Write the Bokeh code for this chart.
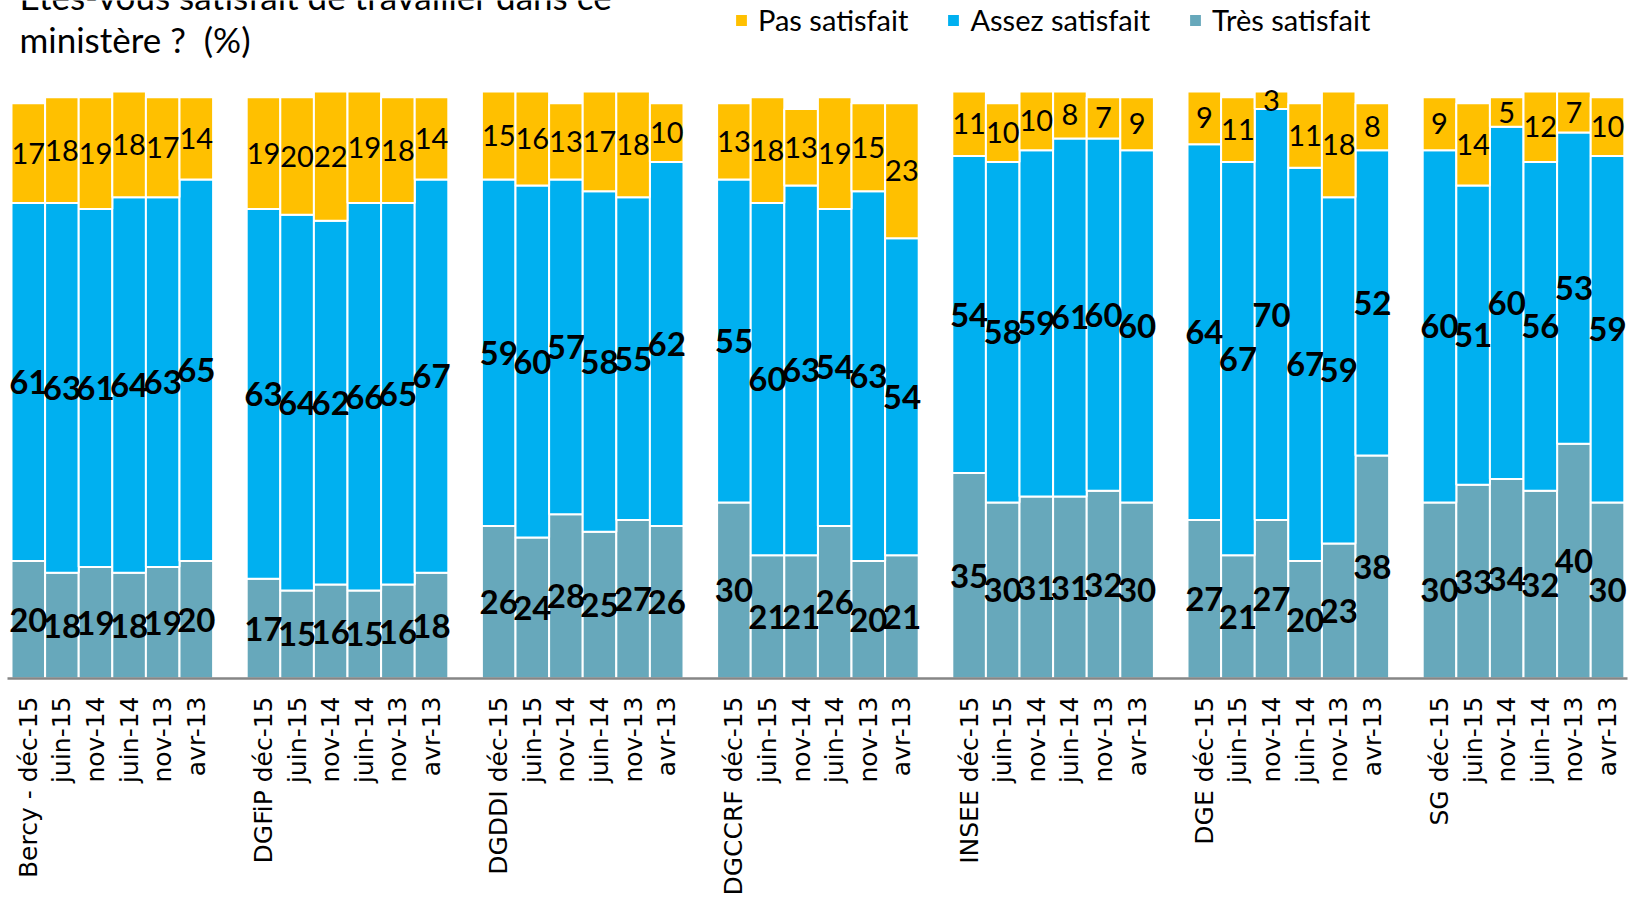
import math
from bokeh.plotting import figure
from bokeh.models import ColumnDataSource, Range1d, FixedTicker, Legend, LegendItem, Label
from bokeh.core.properties import value
from bokeh.embed import file_html
from bokeh.resources import INLINE

# ---- data -------------------------------------------------------------
groups = ["Bercy -", "DGFiP", "DGDDI", "DGCCRF", "INSEE", "DGE", "SG"]
periods = ["déc-15", "juin-15", "nov-14", "juin-14", "nov-13", "avr-13"]

# one value per (group, period), groups in order above
tres_satisfait = [
    20, 18, 19, 18, 19, 20,   # Bercy
    17, 15, 16, 15, 16, 18,   # DGFiP
    26, 24, 28, 25, 27, 26,   # DGDDI
    30, 21, 21, 26, 20, 21,   # DGCCRF
    35, 30, 31, 31, 32, 30,   # INSEE
    27, 21, 27, 20, 23, 38,   # DGE
    30, 33, 34, 32, 40, 30,   # SG
]
assez_satisfait = [
    61, 63, 61, 64, 63, 65,
    63, 64, 62, 66, 65, 67,
    59, 60, 57, 58, 55, 62,
    55, 60, 63, 54, 63, 54,
    54, 58, 59, 61, 60, 60,
    64, 67, 70, 67, 59, 52,
    60, 51, 60, 56, 53, 59,
]
pas_satisfait = [
    17, 18, 19, 18, 17, 14,
    19, 20, 22, 19, 18, 14,
    15, 16, 13, 17, 18, 10,
    13, 18, 13, 19, 15, 23,
    11, 10, 10, 8, 7, 9,
    9, 11, 3, 11, 18, 8,
    9, 14, 5, 12, 7, 10,
]

series_names = ["Pas satisfait", "Assez satisfait", "Très satisfait"]
colors = {"Pas satisfait": "#FFC000", "Assez satisfait": "#00B0F0", "Très satisfait": "#67A8BB"}
title_lines = ["Etes-vous satisfait de travailler dans ce", "ministère ?\u00a0 (%)"]

# ---- layout of categories (one empty slot between groups) -------------
n_per = len(periods)
slot = n_per + 1
xs, tick_labels = [], {}
for g, grp in enumerate(groups):
    for i, per in enumerate(periods):
        x = g * slot + i
        xs.append(x)
        tick_labels[x] = f"{grp} {per}" if i == 0 else per

t_top = tres_satisfait
a_top = [t + a for t, a in zip(tres_satisfait, assez_satisfait)]
p_top = [a + p for a, p in zip(a_top, pas_satisfait)]

src = ColumnDataSource(dict(
    x=xs,
    t_bot=[0] * len(xs), t_top=t_top, a_top=a_top, p_top=p_top,
    t_mid=[t / 2 for t in tres_satisfait],
    a_mid=[t + a / 2 for t, a in zip(tres_satisfait, assez_satisfait)],
    p_mid=[a + p / 2 for a, p in zip(a_top, pas_satisfait)],
    t_txt=[str(v) for v in tres_satisfait],
    a_txt=[str(v) for v in assez_satisfait],
    p_txt=[str(v) for v in pas_satisfait],
))

W, H = 1634, 899
FRAME_H = 678
p = figure(width=W, height=H, output_backend="svg", toolbar_location=None,
           x_range=Range1d(-0.619, 47.595), y_range=Range1d(0, 115.5),
           min_border_left=7, min_border_right=7, min_border_top=0,
           min_border_bottom=H - FRAME_H)
p.outline_line_color = None
p.xgrid.visible = False
p.ygrid.visible = False
p.yaxis.visible = False
p.background_fill_color = "white"

bar_kw = dict(width=1.0, line_color="white", line_width=2, source=src)
r_t = p.vbar(x="x", bottom="t_bot", top="t_top", fill_color=colors["Très satisfait"], **bar_kw)
r_a = p.vbar(x="x", bottom="t_top", top="a_top", fill_color=colors["Assez satisfait"], **bar_kw)
r_p = p.vbar(x="x", bottom="a_top", top="p_top", fill_color=colors["Pas satisfait"], **bar_kw)

lab_kw = dict(source=src, text_align="center", text_baseline="middle",
              text_font=value("Lato"), text_color="black")
p.text(x="x", y="t_mid", text="t_txt", text_font_style="bold", text_font_size="33px", **lab_kw)
p.text(x="x", y="a_mid", text="a_txt", text_font_style="bold", text_font_size="33px", **lab_kw)
p.text(x="x", y="p_mid", text="p_txt", text_font_style="normal", text_font_size="29px", **lab_kw)

ax = p.xaxis[0]
ax.ticker = FixedTicker(ticks=xs)
ax.major_label_overrides = tick_labels
ax.major_label_orientation = math.pi / 2
ax.major_label_text_font = "DejaVu Sans"
ax.major_label_text_font_size = "25px"
ax.major_label_text_color = "black"
ax.major_label_standoff = 18
ax.major_tick_line_color = None
ax.minor_tick_line_color = None
ax.major_tick_out = 0
ax.major_tick_in = 0
ax.axis_line_color = "#868686"
ax.axis_line_width = 2.5

legend = Legend(items=[
    LegendItem(label=series_names[0], renderers=[r_p]),
    LegendItem(label=series_names[1], renderers=[r_a]),
    LegendItem(label=series_names[2], renderers=[r_t]),
], orientation="horizontal", location=(726, FRAME_H - 37),
    glyph_width=16, glyph_height=16, label_standoff=9, spacing=37,
    padding=0, margin=0, border_line_color=None, background_fill_alpha=0,
    label_text_font="Lato", label_text_font_size="29px", label_text_color="black")
p.add_layout(legend)

for k, (txt, base) in enumerate(zip(title_lines, [683, 640])):
    p.add_layout(Label(x=12, y=base, x_units="screen", y_units="screen",
                       text=txt, text_font="Lato", text_font_size="35px",
                       text_color="black", text_baseline="alphabetic"))

open("out.html", "w").write(file_html(p, INLINE))
